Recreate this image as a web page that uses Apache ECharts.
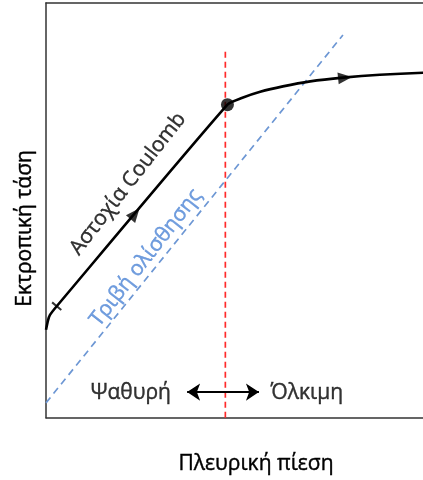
<!DOCTYPE html>
<html>
<head>
<meta charset="utf-8">
<script src="https://cdn.jsdelivr.net/npm/echarts@6/dist/echarts.min.js"></script>
<style>html,body{margin:0;padding:0;background:#fff}#c{width:423px;height:480px}</style>
</head>
<body>
<div id="c"></div>
<script>
// Data (x: lateral pressure, y: deviatoric stress, arbitrary units; visible x range is cropped)
const coulombCurve = [[0,21.2],[0.48,23.5],[0.95,24.8],[2.55,26.9],[43.2,75.5],[46.6,77.1],[51.0,78.6],[56.4,79.9],[62.9,81.1],[70.7,82.0],[79.5,82.7],[89.8,83.2]];
const frictionLine = [[0,3.6],[70.7,92.3]];
const transitionLine = [[42.7,0],[42.7,89.2]];
const transitionPoint = [[43.2,75.5]];
const arrowPoints = [[21.2,49.2,-40],[71.2,82.0,-84]];
const tickPoint = [[2.55,26.9]];
const regimeArrow = [[33.6,6.2],[50.7,6.2]];
const labels = [
  {text:'Ψαθυρή', pos:[20.2,6.0], rot:0, color:'#000'},
  {text:'Όλκιμη', pos:[62.1,6.0], rot:0, color:'#000'},
  {text:'Αστοχία Coulomb', pos:[19.5,56.4], rot:52, color:'#000'},
  {text:'Τριβή ολίσθησης', pos:[23.8,38.6], rot:52, color:'#4f86d6'}
];
const xName = 'Πλευρική πίεση';
const yName = 'Εκτροπική τάση';
const xMax = 89.76;

const FONT = '"Open Sans", sans-serif';
const FS = 21;
const chart = echarts.init(document.getElementById('c'), null, {renderer:'canvas'});
const axisLine = {show:true, lineStyle:{color:'#333', width:1.5}};
const txt = (c) => ({fontFamily:FONT, fontSize:FS, color:c, textBorderColor:c, textBorderWidth:0.4});
chart.setOption({
  animation:false,
  grid:{left:46, right:0, top:3, bottom:60},
  xAxis:[
    {type:'value', min:0, max:xMax, axisLine:axisLine, axisTick:{show:false}, axisLabel:{show:false}, splitLine:{show:false},
      name:xName, nameLocation:'middle', nameGap:36, nameTextStyle:Object.assign(txt('#000'), {padding:[0,0,0,43]})},
    {type:'value', position:'top', min:0, max:xMax, axisLine:axisLine, axisTick:{show:false}, axisLabel:{show:false}, splitLine:{show:false}}
  ],
  yAxis:{type:'value', min:0, max:100, axisLine:axisLine, axisTick:{show:false}, axisLabel:{show:false}, splitLine:{show:false},
    name:yName, nameLocation:'middle', nameGap:10, nameRotate:90, nameTextStyle:Object.assign(txt('#000'), {padding:[0,36,0,0]})},
  series:[
    {type:'line', data:frictionLine, symbol:'none', lineStyle:{color:'#6d97d4', width:1.7, type:[7,5]}, z:2},
    {type:'line', data:transitionLine, symbol:'none', lineStyle:{color:'#ff2a2a', width:1.7, type:[6,4]}, z:2},
    {type:'line', data:coulombCurve, symbol:'none', smooth:0.2, lineStyle:{color:'#000', width:2.6}, z:3},
    {type:'scatter', data:transitionPoint, symbol:'circle', symbolSize:13, itemStyle:{color:'#000'}, z:5},
    {type:'scatter', data:arrowPoints.map(p=>({value:[p[0],p[1]], symbolRotate:p[2]})), symbol:'triangle', symbolSize:[12,14], itemStyle:{color:'#000'}, z:5},
    {type:'scatter', data:tickPoint, symbol:'rect', symbolSize:[2,12], symbolRotate:50, itemStyle:{color:'#000'}, z:5},
    {type:'lines', coordinateSystem:'cartesian2d', data:[{coords:regimeArrow}], symbol:['arrow','arrow'], symbolSize:13, lineStyle:{color:'#000', width:2, opacity:1}, z:4},
    {type:'scatter', symbolSize:0, silent:true, z:6,
      data:labels.map(l=>({value:l.pos, label:Object.assign({show:true, formatter:l.text, rotate:l.rot, position:'inside'}, txt(l.color))}))}
  ]
});
</script>
</body>
</html>
